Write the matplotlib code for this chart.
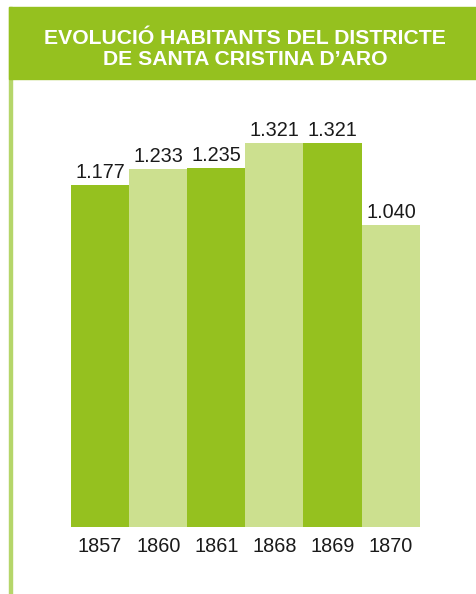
import matplotlib
matplotlib.use('Agg')
import matplotlib.pyplot as plt
from matplotlib.patches import Rectangle

W, H = 476, 594
DPI = 100

years = ['1857', '1860', '1861', '1868', '1869', '1870']
habitants = [1177, 1233, 1235, 1321, 1321, 1040]
labels = ['1.177', '1.233', '1.235', '1.321', '1.321', '1.040']

DARK = '#95c11f'
LIGHT = '#cce08f'
LINE = '#b5d66a'

plt.rcParams['font.family'] = ['Liberation Sans', 'DejaVu Sans']

fig = plt.figure(figsize=(W / DPI, H / DPI), dpi=DPI)

# header band and left rule
fig.patches.append(Rectangle((9 / W, 0), 2.5 / W, 1 - 7 / H, transform=fig.transFigure,
                             color=LINE, zorder=0))
fig.patches.append(Rectangle((9 / W, 1 - 79 / H), 1 - 9 / W, 72 / H, transform=fig.transFigure,
                             color=DARK, zorder=1))
fig.text(245 / W, 1 - 49 / H, 'EVOLUCIÓ HABITANTS DEL DISTRICTE\nDE SANTA CRISTINA D\u2019ARO',
         ha='center', va='center', color='white', fontsize=15.2, fontweight='bold',
         linespacing=1.12)

# plot area: baseline at y=527 px, 1321 at y=143 px
base, top_px = 527, 100
ax = fig.add_axes([71 / W, 1 - base / H, (420 - 71) / W, (base - top_px) / H])
ymax = 1321 * (base - top_px) / (base - 143)
colors = [DARK if i % 2 == 0 else LIGHT for i in range(len(years))]
x = list(range(len(years)))
ax.bar(x, habitants, width=1.01, color=colors, linewidth=0)
for xi, v, lab in zip(x, habitants, labels):
    ax.annotate(lab, (xi, v), xytext=(0, 2), textcoords='offset points',
                ha='center', va='bottom', fontsize=14.3, color='#1a1a1a')
ax.set_xlim(-0.5, len(years) - 0.5)
ax.set_ylim(0, ymax)
ax.set_xticks(x)
ax.set_xticklabels(years, fontsize=14.3, color='#1a1a1a')
ax.tick_params(axis='x', length=0, pad=7)
ax.set_yticks([])
for s in ax.spines.values():
    s.set_visible(False)
ax.patch.set_alpha(0)

fig.savefig('out.png', dpi=DPI)
